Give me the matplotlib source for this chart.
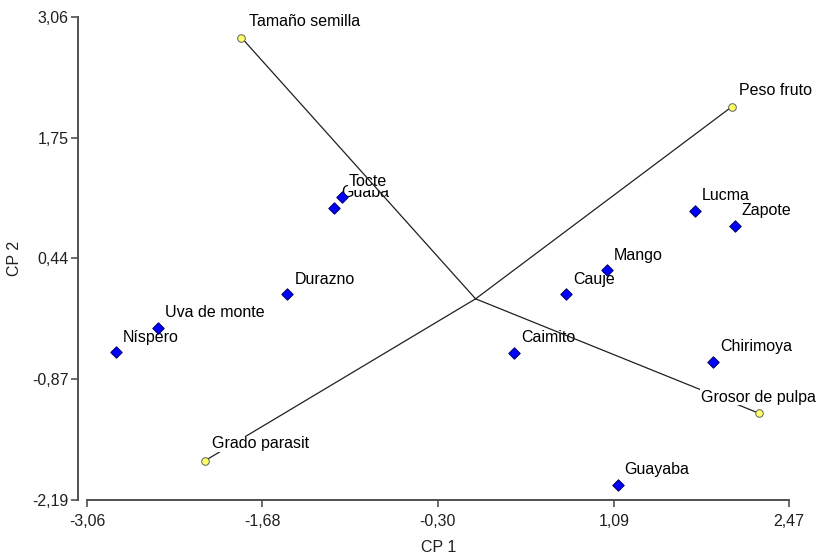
import matplotlib
matplotlib.use("Agg")
import matplotlib.pyplot as plt

plt.rcParams['font.family'] = ['Liberation Sans', 'DejaVu Sans']

# Observations (blue diamonds)
obs_names = ["Guaba", "Tocte", "Durazno", "Uva de monte", "Níspero", "Cauje", "Mango",
             "Lucma", "Zapote", "Caimito", "Chirimoya", "Guayaba"]
obs_x = [-1.112, -1.054, -1.483, -2.505, -2.832, 0.714, 1.036, 1.729, 2.041, 0.305, 1.873, 1.119]
obs_y = [0.988, 1.111, 0.051, -0.317, -0.581, 0.048, 0.312, 0.959, 0.796, -0.584, -0.682, -2.023]

# Variables (yellow circles, vectors from origin)
var_names = ["Tamaño semilla", "Peso fruto", "Grado parasit", "Grosor de pulpa"]
var_x = [-1.845, 2.018, -2.133, 2.232]
var_y = [2.839, 2.087, -1.760, -1.243]

xticks = [-3.06, -1.68, -0.30, 1.09, 2.47]
yticks = [-2.19, -0.87, 0.44, 1.75, 3.06]

fig = plt.figure(figsize=(8.25, 5.59), dpi=100)
ax = fig.add_axes([0.1058, 0.105, 0.8506, 0.864])
ax.set_xlim(-3.06, 2.47)
ax.set_ylim(-2.19, 3.06)

FS = 11.5
bbox = dict(facecolor='white', edgecolor='none', pad=0.5)

# observation labels (white background), below lines
for i, (n, x, y) in enumerate(zip(obs_names, obs_x, obs_y)):
    ax.annotate(n, (x, y), xytext=(7, 15), textcoords='offset pixels',
                ha='left', va='center', fontsize=FS, color='black',
                bbox=bbox, zorder=2 + i * 0.01)

ax.scatter(obs_x, obs_y, marker='D', s=34, facecolor='#0000ff', edgecolor='#000060',
           linewidths=0.7, zorder=3)

# variable vectors
for x, y in zip(var_x, var_y):
    ax.plot([0, x], [0, y], color='#202020', lw=0.9, zorder=4)

var_off = [(8, 16), (7, 16), (7, 17), (-58, 16)]
for n, x, y, off in zip(var_names, var_x, var_y, var_off):
    ax.annotate(n, (x, y), xytext=off, textcoords='offset pixels',
                ha='left', va='center', fontsize=FS, color='black',
                bbox=bbox, zorder=5)

ax.scatter(var_x, var_y, marker='o', s=30, facecolor='#ffff66', edgecolor='#606060',
           linewidths=0.7, zorder=6)

# axes styling
for s in ['top', 'right']:
    ax.spines[s].set_visible(False)
for s in ['left', 'bottom']:
    ax.spines[s].set_color('#505050')
    ax.spines[s].set_linewidth(1.4)
ax.spines['left'].set_position(('outward', 6.5))

ax.set_xticks(xticks)
ax.set_yticks(yticks)
ax.set_xticklabels([f"{v:.2f}".replace('.', ',') for v in xticks])
ax.set_yticklabels([f"{v:.2f}".replace('.', ',') for v in yticks])
ax.tick_params(axis='both', length=5, width=1.2, color='#505050', labelsize=FS, labelcolor='#202020')
ax.tick_params(axis='x', pad=5)
ax.tick_params(axis='y', pad=2)

ax.set_xlabel("CP 1", fontsize=FS, color='#202020', labelpad=8)
ax.set_ylabel("CP 2", fontsize=FS, color='#202020', labelpad=7.5)

fig.savefig("out.png", dpi=100)
